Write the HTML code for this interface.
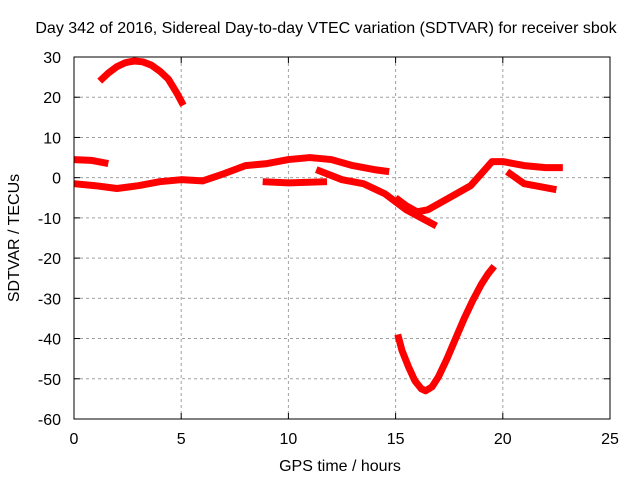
<!DOCTYPE html>
<html><head><meta charset="utf-8"><style>
body{margin:0;background:#fff}
svg text{font-family:"Liberation Sans",sans-serif;font-size:16px;fill:#000}
</style></head><body>
<svg id="c" width="640" height="480">
<rect width="640" height="480" fill="#fff"/>
<g id="grid"></g>
<g id="series"></g>
<rect x="74" y="57" width="536" height="362" fill="none" stroke="#000" stroke-width="1"/>
<g id="ticks"></g>
<text x="326" y="33" text-anchor="middle">Day 342 of 2016, Sidereal Day-to-day VTEC variation (SDTVAR) for receiver sbok</text>
<text x="340" y="471" text-anchor="middle">GPS time / hours</text>
<text x="19" y="238" text-anchor="middle" transform="rotate(-90 19 238)">SDTVAR / TECUs</text>
</svg>
<script>
const xTicks=[0,5,10,15,20,25];
const yTicks=[30,20,10,0,-10,-20,-30,-40,-50,-60];
const arcTop=[[1.2,24],[1.6,26],[2,27.6],[2.4,28.6],[2.8,29],[3.2,28.8],[3.6,28],[4,26.5],[4.4,24.5],[4.8,21],[5.1,18]];
const arcStart=[[0,4.5],[0.8,4.3],[1.6,3.5]];
const arcMain=[[0,-1.5],[1,-2],[2,-2.7],[3,-2],[4,-1],[5,-0.5],[6,-0.8],[7,1],[8,3],[9,3.5],[10,4.5],[11,5],[12,4.5],[13,3],[14,2],[14.7,1.5]];
const arcMid=[[8.8,-1],[10,-1.3],[11.8,-1]];
const arcDrop=[[11.3,2],[12.5,-0.5],[13.5,-1.5],[14.5,-4],[15.5,-8],[16.2,-10],[16.9,-12]];
const arcRise=[[15,-5],[15.5,-7],[16,-8.5],[16.5,-8],[17.5,-5],[18.5,-2],[19,1],[19.5,4],[20,4],[21,3],[22,2.5],[22.8,2.5]];
const arcLow=[[20.2,1.5],[21,-1.5],[22.5,-3]];
const arcDip=[[15.1,-39],[15.3,-43],[15.6,-47],[15.9,-50.5],[16.2,-52.5],[16.4,-53],[16.7,-52],[17,-49.5],[17.4,-45],[17.8,-40],[18.2,-35],[18.6,-30.5],[19,-26.5],[19.3,-24],[19.6,-22]];
const arcs=[arcTop,arcStart,arcMain,arcMid,arcDrop,arcRise,arcLow,arcDip];
const X=v=>74+v*(536/25), Y=v=>57+(30-v)*(362/90);
const NS="http://www.w3.org/2000/svg";
const g=document.getElementById('grid'),t=document.getElementById('ticks'),s=document.getElementById('series');
function el(n,a,p){const e=document.createElementNS(NS,n);for(const k in a)e.setAttribute(k,a[k]);p.appendChild(e);return e;}
xTicks.forEach(v=>{
 if(v>0&&v<25){const l=el('line',{x1:X(v),x2:X(v),y1:57,y2:419,stroke:'#a0a0a0','stroke-dasharray':'3,3'},g);
 
 }
 el('line',{x1:X(v),x2:X(v),y1:419,y2:413,stroke:'#000'},t);
 el('line',{x1:X(v),x2:X(v),y1:57,y2:63,stroke:'#000'},t);
 const tx=el('text',{x:X(v),y:444,'text-anchor':'middle'},t);tx.textContent=v;
 
 
});
yTicks.forEach(v=>{
 if(v<30&&v>-60){const l=el('line',{x1:74,x2:610,y1:Y(v),y2:Y(v),stroke:'#a0a0a0','stroke-dasharray':'3,3'},g);
 
 }
 el('line',{x1:74,x2:80,y1:Y(v),y2:Y(v),stroke:'#000'},t);
 el('line',{x1:604,x2:610,y1:Y(v),y2:Y(v),stroke:'#000'},t);
 const tx=el('text',{x:61,y:Y(v)+6,'text-anchor':'end'},t);tx.textContent=v;
 
 
});
arcs.forEach(a=>{
 const p=el('polyline',{points:a.map(d=>X(d[0])+','+Y(d[1])).join(' '),fill:'none',stroke:'#f00','stroke-width':7,'stroke-linejoin':'round','stroke-linecap':'butt'},s);
 
 
});
</script>
</body></html>
